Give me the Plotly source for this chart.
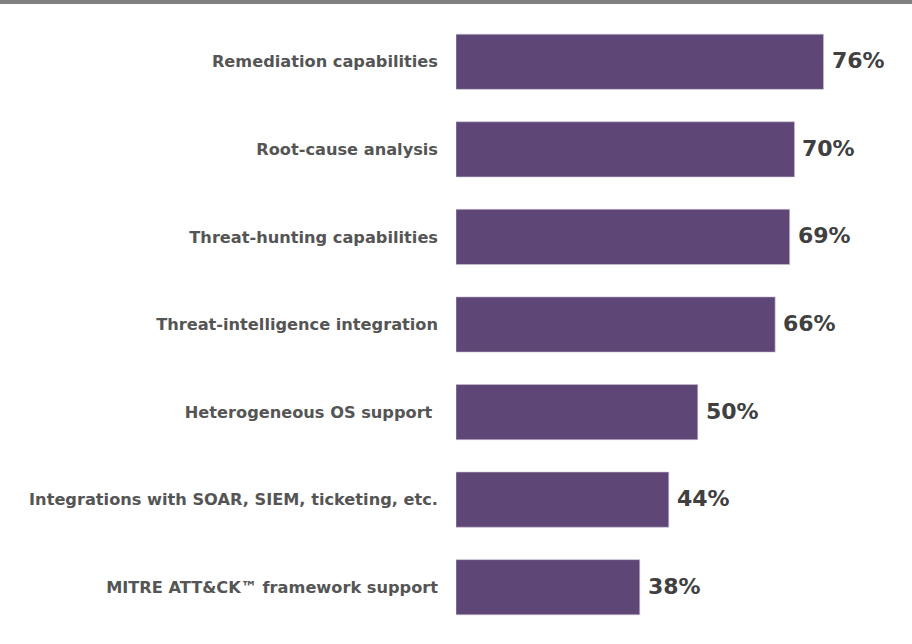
import plotly.graph_objects as go

categories = [
    "Remediation capabilities",
    "Root-cause analysis",
    "Threat-hunting capabilities",
    "Threat-intelligence integration",
    "Heterogeneous OS support ",
    "Integrations with SOAR, SIEM, ticketing, etc.",
    "MITRE ATT&CK™ framework support",
]
values = [76, 70, 69, 66, 50, 44, 38]
value_labels = [f"{v}%" for v in values]

BAR_COLOR = "#5e4776"

fig = go.Figure()
fig.add_trace(go.Bar(
    y=categories,
    x=values,
    orientation="h",
    marker=dict(color=BAR_COLOR, line=dict(color="#c9bfd4", width=0.6)),
    width=0.63,
    hoverinfo="skip",
))

for c, v, t in zip(categories, values, value_labels):
    fig.add_annotation(
        x=v, y=c, text=f"<b>{t}</b>", showarrow=False,
        xanchor="left", yanchor="middle", xshift=6, yshift=1,
        font=dict(family="DejaVu Sans", size=22, color="#404040"),
    )

fig.add_shape(
    type="rect", xref="paper", yref="paper",
    x0=-1.05, x1=1.05, ysizemode="pixel", yanchor=1, y0=14, y1=18,
    fillcolor="#808080", line=dict(width=0), layer="above",
)

fig.update_layout(
    width=912, height=644,
    margin=dict(l=456, r=0, t=18, b=13),
    plot_bgcolor="white", paper_bgcolor="white",
    showlegend=False,
    xaxis=dict(range=[0, 94.3], visible=False, fixedrange=True),
    yaxis=dict(
        categoryorder="array", categoryarray=categories[::-1],
        range=[-0.5, 6.5],
        showgrid=False, zeroline=False, showline=False, ticks="",
        ticklabelstandoff=17,
        tickfont=dict(family="DejaVu Sans", size=16.2, color="#555555"),
        tickprefix="<b>", ticksuffix="</b>",
    ),
)

fig.write_html("out.html")
